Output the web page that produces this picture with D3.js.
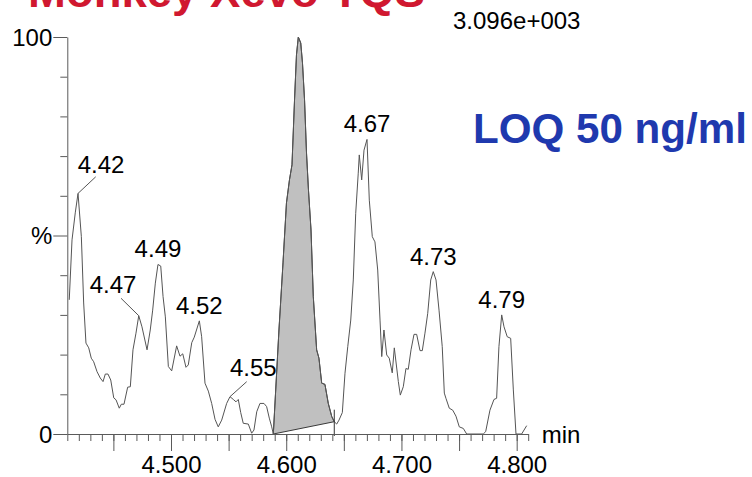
<!DOCTYPE html>
<html><head><meta charset="utf-8">
<script src="https://cdn.jsdelivr.net/npm/d3@7"></script>
<style>
body{margin:0;background:#fff}
svg{display:block}
text{font-family:"Liberation Sans",Arial,sans-serif}
</style>
</head><body><svg id="chart" width="752" height="477"></svg>
<script>
// ---- data ----
const times = [
4.4117,4.4141,4.4169,4.4193,4.4222,4.4242,4.4262,4.4286,4.4308,4.4329,
4.4358,4.4386,4.4410,4.4430,4.4453,4.4477,4.4503,4.4523,4.4551,4.4569,
4.4592,4.4624,4.4647,4.4670,4.4696,4.4720,4.4748,4.4792,4.4820,4.4841,
4.4864,4.4887,4.4911,4.4931,4.4951,4.4977,4.5006,4.5049,4.5078,4.5102,
4.5130,4.5150,4.5180,4.5202,4.5246,4.5266,4.5295,4.5324,4.5353,4.5382,
4.5410,4.5440,4.5483,4.5512,4.5541,4.5564,4.5584,4.5605,4.5627,4.5671,
4.5700,4.5720,4.5744,4.5772,4.5807,4.5830,4.5853,4.5874,4.5888,
4.5937,4.5972,4.6002,4.6028,4.6050,4.6072,4.6089,4.6105,4.6126,4.6141,
4.6159,4.6176,4.6193,4.6215,4.6235,4.6264,4.6284,4.6308,4.6336,4.6365,
4.6395,4.6417,
4.6438,4.6458,4.6487,4.6510,4.6534,4.6560,4.6582,4.6603,4.6625,4.6634,
4.6655,4.6675,4.6701,4.6721,4.6747,4.6770,4.6794,4.6814,4.6829,4.6848,
4.6872,4.6894,4.6920,4.6938,4.6973,4.6990,4.7016,4.7039,4.7059,4.7083,
4.7109,4.7132,4.7161,4.7181,4.7204,4.7228,4.7254,4.7276,4.7300,4.7326,
4.7354,4.7372,4.7386,4.7415,4.7445,4.7473,4.7502,4.7537,4.7566,4.7710,
4.7731,4.7768,4.7803,4.7826,4.7846,4.7870,4.7890,4.7918,4.7948,4.7971,
4.7994,4.8043,4.8087];
const values = [
33.8,48.9,55.7,60.6,49.7,33.0,22.9,21.7,19.1,18.2,
15.7,14.1,13.2,15.1,15.1,13.6,9.1,8.6,6.5,7.5,
7.5,11.8,11.9,21.2,25.4,29.8,27.0,21.2,26.2,31.2,
38.0,42.7,42.3,34.6,29.5,17.0,15.9,22.2,19.6,20.2,
16.8,17.4,23.0,24.4,28.5,24.5,12.8,10.8,7.7,3.7,
1.8,3.5,7.7,9.4,8.7,8.1,8.7,5.4,2.7,2.5,
0.2,1.0,5.6,7.7,7.7,6.9,4.0,1.8,0,
26.2,43.1,58.2,64.0,67.8,84.1,95.5,100,98.5,93.5,
84.1,70.8,61.5,51.4,34.6,21.2,19.1,12.8,12.5,7.7,
4.4,3.1,
2.5,3.5,5.4,15.3,22.0,28.7,38.8,55.6,65.7,70.3,
64.0,71.5,74.2,58.9,49.7,48.4,41.3,28.7,19.5,26.2,
19.9,19.1,15.4,21.7,13.2,9.8,11.9,16.5,16.3,21.2,
25.1,25.1,21.0,21.0,25.4,30.4,38.8,40.9,38.8,31.2,
22.0,10.3,9.0,6.5,6.0,4.5,1.8,1.4,0,0,
0.6,6.0,8.7,9.0,22.0,30.0,27.0,24.5,24.1,11.1,
0,0,2.1];
const peakLabels = ["4.42","4.47","4.49","4.52","4.55","4.67","4.73","4.79"];
const peakTimes = [4.4193,4.4720,4.4887,4.5246,4.5512,4.6701,4.7276,4.7870];
const integStart = 4.5888, integEnd = 4.6417;
const xDomain = [4.41, 4.81];
const xMajorTicks = [4.45,4.50,4.55,4.60,4.65,4.70,4.75,4.80];
const xTickLabels = ["4.500","4.600","4.700","4.800"];
const yMajorTicks = [0,50,100];
const yTickLabels = ["0","%","100"];
const intensityText = "3.096e+003";
const titleText = "Monkey Xevo TQS";
const loqText = "LOQ 50 ng/ml";
const xUnit = "min";

// ---- layout (not data) ----
const labelLayout = {
  "4.42": {tx:23, ty:-20, lx:17.7, ly:-16.6},
  "4.47": {tx:-25.7, ty:-23, lx:-17.7, ly:-17.4},
  "4.55": {tx:23.3, ty:-21, lx:16.7, ly:-15}
};
const FONT = 24;
const axisColor = "#5a5a5a";

const svg = d3.select("#chart");
const x = d3.scaleLinear().domain(xDomain).range([67.3, 528.2]);
const y = d3.scaleLinear().domain([0,100]).range([434, 37]);
const pts = times.map((t,i)=>({t, v: values[i]}));

// title (partially cut off)
svg.append("text").attr("x",28).attr("y",7)
  .attr("font-size",45).attr("font-weight","bold").attr("fill","#d01830")
  .attr("textLength",397).attr("lengthAdjust","spacingAndGlyphs")
  .text(titleText);

// intensity
svg.append("text").attr("x",453).attr("y",29).attr("font-size",FONT).attr("fill","#000")
  .text(intensityText);

// LOQ
svg.append("text").attr("x",473).attr("y",142.7).attr("font-size",42).attr("font-weight","bold")
  .attr("fill","#1f39ae").attr("textLength",274).attr("lengthAdjust","spacingAndGlyphs")
  .text(loqText);

// integrated area
const areaPts = pts.filter(p => p.t >= integStart - 1e-9 && p.t <= integEnd + 1e-9);
svg.append("path")
  .attr("d", d3.line().x(d=>x(d.t)).y(d=>y(d.v))(areaPts) + "Z")
  .attr("fill","#c0c0c0").attr("stroke","#3a3a3a").attr("stroke-width",1);

// trace
svg.append("path")
  .attr("d", d3.line().x(d=>x(d.t)).y(d=>y(d.v))(pts))
  .attr("fill","none").attr("stroke","#555").attr("stroke-width",1);

// integration end marker
const endPt = areaPts[areaPts.length-1];
svg.append("line")
  .attr("x1",x(endPt.t)).attr("x2",x(endPt.t))
  .attr("y1",y(endPt.v)-12).attr("y2",y(0)+2)
  .attr("stroke","#333").attr("stroke-width",1);

// x axis minor
const xMinor = d3.range(441,482).map(d=>d/100);
const gxMinor = svg.append("g").attr("transform",`translate(0,${y(0)})`)
  .call(d3.axisBottom(x).tickValues(xMinor).tickSize(7).tickSizeOuter(0).tickFormat(""));
const gxMajor = svg.append("g").attr("transform",`translate(0,${y(0)})`)
  .call(d3.axisBottom(x).tickValues(xMajorTicks).tickSize(17).tickSizeOuter(0).tickPadding(5)
    .tickFormat(d => { const s = d3.format(".3f")(d); return xTickLabels.includes(s) ? s : ""; }));
gxMajor.select(".domain").remove();

// y axis
const yMinor = d3.range(10,100,10).filter(v=>!yMajorTicks.includes(v));
svg.append("g").attr("transform",`translate(${x(xDomain[0])},0)`)
  .call(d3.axisLeft(y).tickValues(yMinor).tickSize(7).tickSizeOuter(0).tickFormat(""));
const gyMajor = svg.append("g").attr("transform",`translate(${x(xDomain[0])},0)`)
  .call(d3.axisLeft(y).tickValues(yMajorTicks).tickSize(14).tickSizeOuter(0).tickPadding(1)
    .tickFormat((d,i)=>yTickLabels[i]));
gyMajor.select(".domain").remove();

svg.selectAll(".tick line, .domain").attr("stroke",axisColor);
svg.selectAll(".tick text").attr("font-size",FONT).attr("fill","#000")
  .attr("font-family","'Liberation Sans',Arial,sans-serif");
gyMajor.selectAll(".tick text").attr("dy","0.35em");

// x unit
svg.append("text").attr("x",541.7).attr("y",443).attr("font-size",FONT).attr("fill","#000").text(xUnit);

// peak labels
peakLabels.forEach((lab,i)=>{
  const t = peakTimes[i];
  let best = pts[0];
  pts.forEach(p=>{ if (Math.abs(p.t-t) < Math.abs(best.t-t)) best = p; });
  const px = x(best.t), py = y(best.v);
  const L = labelLayout[lab];
  if (L) {
    svg.append("line").attr("x1",px).attr("y1",py).attr("x2",px+L.lx).attr("y2",py+L.ly)
      .attr("stroke","#555").attr("stroke-width",1);
    svg.append("text").attr("x",px+L.tx).attr("y",py+L.ty).attr("text-anchor","middle")
      .attr("font-size",FONT).attr("fill","#000").text(lab);
  } else {
    svg.append("text").attr("x",px).attr("y",py-7).attr("text-anchor","middle")
      .attr("font-size",FONT).attr("fill","#000").text(lab);
  }
});
</script>
</body></html>
